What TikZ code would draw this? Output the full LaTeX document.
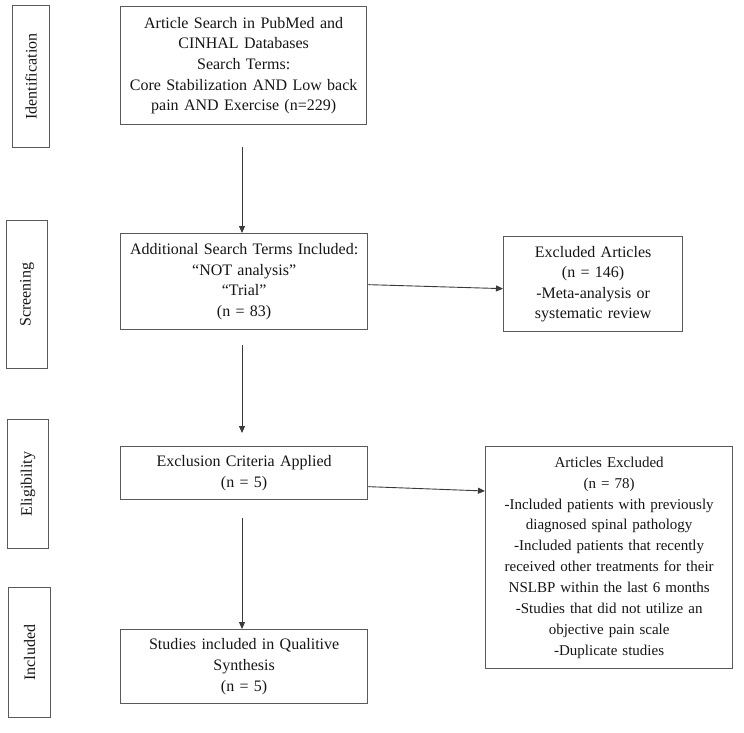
\documentclass[tikz,border=0pt]{standalone}
\usepackage{fontspec}
\setmainfont{Liberation Serif}
\usetikzlibrary{arrows.meta,calc}
\definecolor{boxline}{HTML}{5A5A5A}
\definecolor{arrline}{HTML}{3A3A3A}
\definecolor{txt}{HTML}{151515}
\newcommand\flowfont{\fontsize{16}{20.6}\selectfont\spaceskip=0.16em plus 0.05em minus 0.02em\relax}
\newcommand\smallflowfont{\fontsize{15}{20.85}\selectfont\spaceskip=0.16em plus 0.05em minus 0.02em\relax}
\begin{document}
\begin{tikzpicture}[x=1pt,y=-1pt,
  every node/.style={font=\flowfont, text=txt},
  flowbox/.style={draw=boxline, line width=1.3pt, inner sep=0pt, align=center, anchor=north west},
  phasebox/.style={draw=boxline, line width=1.3pt, inner sep=0pt, anchor=north west},
  flowarr/.style={draw=arrline, line width=0.9pt, -{Triangle[length=7pt,width=6pt]}}
]
\useasboundingbox (0,0) rectangle (744,733);
% phase labels
\node[phasebox, minimum width=37pt, minimum height=142pt] (pid) at (12,5) {};
\node[rotate=90] (tid) at (pid.center) {Identification};
\node[phasebox, minimum width=41pt, minimum height=148pt] (psc) at (6,220) {};
\node[rotate=90] (tsc) at (psc.center) {Screening};
\node[phasebox, minimum width=41pt, minimum height=129pt] (pel) at (7,419) {};
\node[rotate=90] (tel) at (pel.center) {Eligibility};
\node[phasebox, minimum width=42pt, minimum height=130pt] (pin) at (8,587) {};
\node[rotate=90] (tin) at (pin.center) {Included};
% flow boxes
\node[flowbox, minimum width=246pt, minimum height=118pt, text width=240pt] (b1) at (120,6)
  {Article Search in PubMed and\\CINHAL Databases\\Search Terms:\\Core Stabilization AND Low back\\pain AND Exercise (n=229)};
\node[flowbox, minimum width=247pt, minimum height=96pt, text width=240pt] (b2) at (120,233)
  {Additional Search Terms Included:\\``NOT analysis''\\``Trial''\\(n = 83)};
\node[flowbox, minimum width=179pt, minimum height=95pt, text width=175pt] (b3) at (503,236)
  {Excluded Articles\\(n = 146)\\-Meta-analysis or\\systematic review};
\node[flowbox, minimum width=247pt, minimum height=53pt, text width=240pt] (b4) at (120,446)
  {Exclusion Criteria Applied\\(n = 5)};
\node[flowbox, font=\smallflowfont, minimum width=247pt, minimum height=222pt, text width=240pt] (b5) at (485,446)
  {Articles Excluded\\(n = 78)\\-Included patients with previously\\diagnosed spinal pathology\\-Included patients that recently\\received other treatments for their\\NSLBP within the last 6 months\\-Studies that did not utilize an\\objective pain scale\\-Duplicate studies};
\node[flowbox, minimum width=247pt, minimum height=74pt, text width=240pt] (b6) at (120,629)
  {Studies included in Qualitive\\Synthesis\\(n = 5)};
% connector ends
\coordinate (a1s) at (242,147);
\coordinate (a2s) at (242,345);
\coordinate (a2e) at (242,433);
\coordinate (a3s) at (242,518);
\coordinate (h1s) at ($(b2.east)+(0,3)$);
\coordinate (h1e) at ($(b3.west)+(0,4.5)$);
\coordinate (h2s) at ($(b4.east)+(0,13.5)$);
\coordinate (h2e) at (b5.west |- 0,491);
% connectors
\draw[flowarr] (a1s) -- (a1s |- b2.north);
\draw[flowarr] (a2s) -- (a2e);
\draw[flowarr] (a3s) -- (a3s |- b6.north);
\draw[flowarr] (h1s) -- (h1e);
\draw[flowarr] (h2s) -- (h2e);
\end{tikzpicture}
\end{document}
